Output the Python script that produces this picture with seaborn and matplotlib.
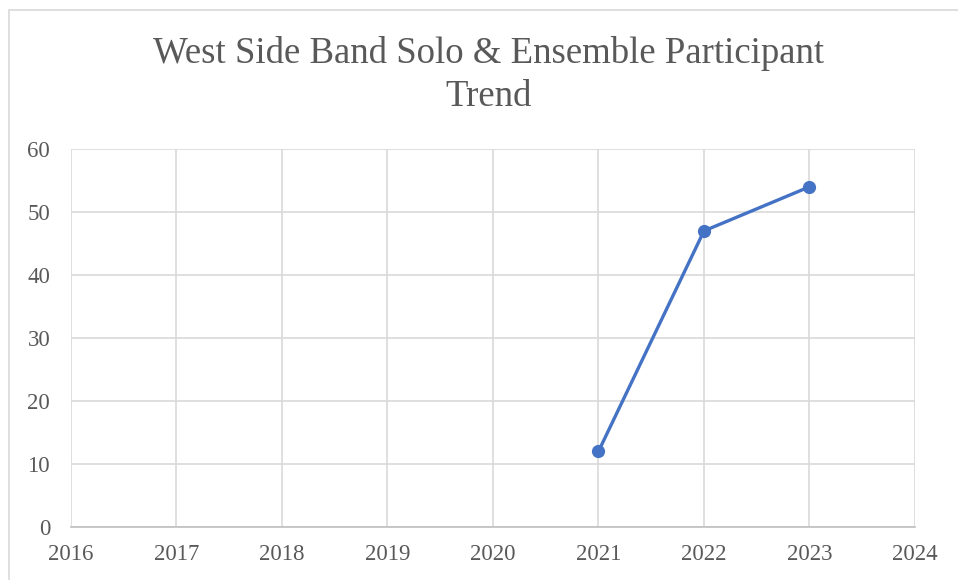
import matplotlib
matplotlib.use("Agg")
import matplotlib.pyplot as plt
import matplotlib.patches as mpatches
import seaborn as sns
import pandas as pd

years = [2021, 2022, 2023]
participants = [12, 47, 54]
x_ticks = [2016, 2017, 2018, 2019, 2020, 2021, 2022, 2023, 2024]
y_ticks = [0, 10, 20, 30, 40, 50, 60]
title = "West Side Band Solo & Ensemble Participant\nTrend"

sns.set_theme(style="white")
plt.rcParams["font.family"] = ["Liberation Serif", "DejaVu Serif"]

df = pd.DataFrame({"year": years, "participants": participants})

fig = plt.figure(figsize=(9.58, 5.8), dpi=100)
ax = fig.add_axes([0.0741, 0.0914, 0.8810, 0.6517])

# chart frame
fig.patches.append(mpatches.Rectangle((9 / 958, -0.1), 1.2, 1 - 10 / 580 + 0.1,
                                      transform=fig.transFigure, fill=False,
                                      edgecolor="#d9d9d9", linewidth=1.2, zorder=0))

sns.lineplot(data=df, x="year", y="participants", ax=ax, color="#4472C4",
             linewidth=2.4, marker="o", markersize=9.5, markeredgewidth=0,
             zorder=5, clip_on=False)

ax.set_xlim(2016, 2024)
ax.set_ylim(0, 60)
ax.set_xticks(x_ticks)
ax.set_yticks(y_ticks)
ax.set_xticklabels([str(v) for v in x_ticks])
ax.set_yticklabels([str(v) for v in y_ticks])
ax.grid(True, color="#d9d9d9", linewidth=1.2)
ax.set_axisbelow(True)
for side in ["top", "right", "left"]:
    ax.spines[side].set_visible(False)
ax.spines["bottom"].set_color("#bfbfbf")
ax.spines["bottom"].set_linewidth(1.2)
ax.tick_params(axis="both", length=0, labelsize=16.5, labelcolor="#595959")
ax.tick_params(axis="x", pad=12)
ax.tick_params(axis="y", pad=15)
ax.set_xlabel("")
ax.set_ylabel("")

fig.text(0.5104, 0.870, title, ha="center", va="center", fontsize=26.5,
         color="#595959", linespacing=1.32)

fig.savefig("out.png", dpi=100)
